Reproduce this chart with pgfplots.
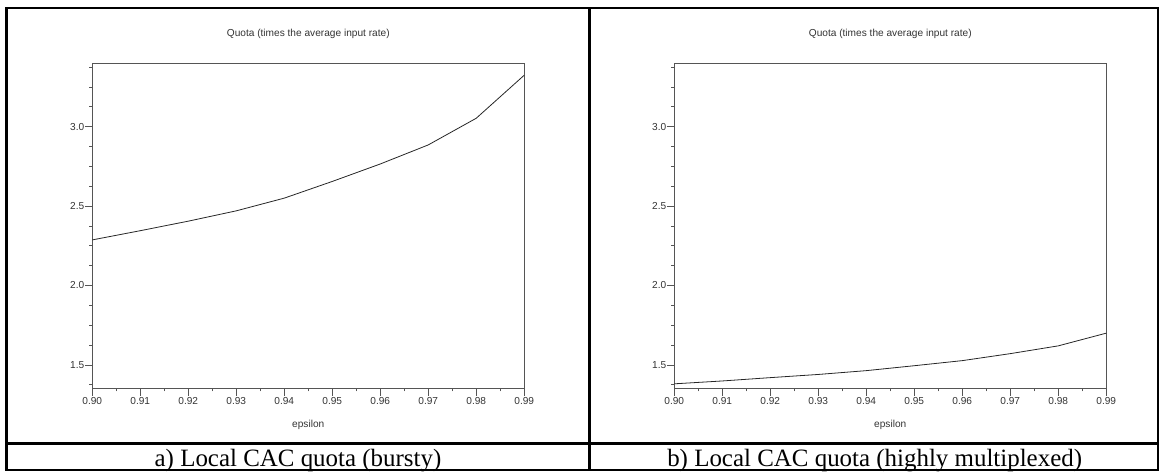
\documentclass[border=0pt]{standalone}
\usepackage{fontspec}
\setmainfont{Liberation Serif}
\newfontfamily\plotfont{Liberation Sans}
\usepackage{pgfplots}
\pgfplotsset{compat=1.18}

% data
\pgfplotstableread{
eps   quota
0.90  2.287
0.91  2.345
0.92  2.405
0.93  2.470
0.94  2.550
0.95  2.655
0.96  2.765
0.97  2.885
0.98  3.053
0.99  3.324
}\bursty
\pgfplotstableread{
eps   quota
0.90  1.381
0.91  1.399
0.92  1.420
0.93  1.440
0.94  1.464
0.95  1.495
0.96  1.527
0.97  1.571
0.98  1.620
0.99  1.700
}\multiplexed

\definecolor{axgray}{RGB}{85,85,85}

\pgfplotsset{
  quotaplot/.style={
    scale only axis, width=324pt, height=243.75pt,
    anchor=south west,
    xmin=0.90, xmax=0.99, ymin=1.353, ymax=3.399,
    axis line style={axgray, line width=0.6pt},
    every tick/.style={axgray, line width=0.6pt},
    tick align=outside,
    xtick pos=bottom, ytick pos=left,
    major tick length=5.5pt, minor tick length=2.4pt,
    xtick={0.90,0.91,...,0.99},
    minor xtick={0.905,0.915,0.925,0.935,0.945,0.955,0.965,0.975,0.985},
    ytick={1.5,2.0,2.5,3.0},
    minor ytick={1.375,1.625,1.75,1.875,2.125,2.25,2.375,2.625,2.75,2.875,3.125,3.25,3.375},
    ticklabel style={font=\plotfont\fontsize{7.6}{9}\selectfont, text=black!80},
    /pgf/number format/assume math mode=true,
    xticklabel style={/pgf/number format/.cd, fixed, fixed zerofill, precision=2, /tikz/yshift=2pt},
    yticklabel style={/pgf/number format/.cd, fixed, fixed zerofill, precision=1, /tikz/xshift=3pt},
    title={Quota (times the average input rate)},
    title style={font=\plotfont\fontsize{7.6}{9}\selectfont, text=black!80,
      at={(axis description cs:0.5,1)}, anchor=center, yshift=16pt},
    xlabel={epsilon},
    xlabel style={font=\plotfont\fontsize{7.6}{9}\selectfont, text=black!80,
      at={(axis description cs:0.5,0)}, anchor=center, yshift=-27.5pt},
    grid=none,
  },
}

\begin{document}
\begin{tikzpicture}
\useasboundingbox (0pt,0pt) rectangle (873pt,-354pt);

\begin{axis}[quotaplot, at={(69.2pt,-291.2pt)}]
  \addplot[black!85, line width=0.6pt, mark=none] table[x=eps, y=quota] {\bursty};
\end{axis}

\begin{axis}[quotaplot, at={(505.7pt,-291.2pt)}]
  \addplot[black!85, line width=0.6pt, mark=none] table[x=eps, y=quota] {\multiplexed};
\end{axis}

% table frame round the two panels
\draw[line width=1.9pt] (5pt,-6pt) rectangle (868.5pt,-352.5pt);
\draw[line width=1.9pt] (442pt,-6pt) -- (442pt,-352.5pt);
\draw[line width=1.9pt] (5pt,-332.5pt) -- (868.5pt,-332.5pt);

\node[anchor=base, font=\fontsize{18.7}{22}\selectfont] at (223.5pt,-349.5pt) {a) Local CAC quota (bursty)};
\node[anchor=base, font=\fontsize{18.7}{22}\selectfont] at (656pt,-349.5pt) {b) Local CAC quota (highly multiplexed)};
\end{tikzpicture}
\end{document}
